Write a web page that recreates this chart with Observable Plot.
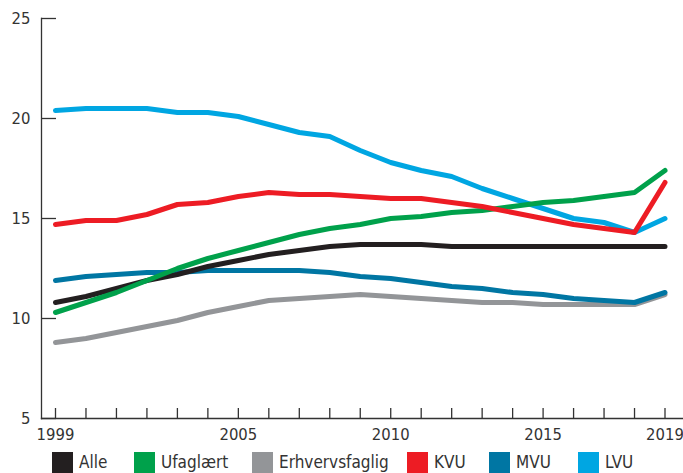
<!DOCTYPE html>
<html>
<head>
<meta charset="utf-8">
<script src="https://cdn.jsdelivr.net/npm/d3@7"></script>
<script src="https://cdn.jsdelivr.net/npm/@observablehq/plot@0.6"></script>
<style>
  html, body { margin: 0; padding: 0; background: #fff; }
  body { width: 683px; height: 473px; overflow: hidden; font-family: "DejaVu Sans Condensed", "DejaVu Sans", sans-serif; color: #333; }
  #legend { position: relative; height: 25px; margin-top: 4px; }
  .item { position: absolute; top: 0; display: flex; align-items: center; font-size: 17px; line-height: 21px; }
  .sw { width: 21px; height: 21px; margin-right: 6px; }
</style>
</head>
<body>
<div id="chart"></div>
<div id="legend"></div>
<script>
const years = [1999,2000,2001,2002,2003,2004,2005,2006,2007,2008,2009,2010,2011,2012,2013,2014,2015,2016,2017,2018,2019];
const alle      = [10.8,11.1,11.5,11.9,12.2,12.6,12.9,13.2,13.4,13.6,13.7,13.7,13.7,13.6,13.6,13.6,13.6,13.6,13.6,13.6,13.6];
const ufaglaert = [10.3,10.8,11.3,11.9,12.5,13.0,13.4,13.8,14.2,14.5,14.7,15.0,15.1,15.3,15.4,15.6,15.8,15.9,16.1,16.3,17.4];
const erhverv   = [8.8,9.0,9.3,9.6,9.9,10.3,10.6,10.9,11.0,11.1,11.2,11.1,11.0,10.9,10.8,10.8,10.7,10.7,10.7,10.7,11.2];
const kvu       = [14.7,14.9,14.9,15.2,15.7,15.8,16.1,16.3,16.2,16.2,16.1,16.0,16.0,15.8,15.6,15.3,15.0,14.7,14.5,14.3,16.8];
const mvu       = [11.9,12.1,12.2,12.3,12.3,12.4,12.4,12.4,12.4,12.3,12.1,12.0,11.8,11.6,11.5,11.3,11.2,11.0,10.9,10.8,11.3];
const lvu       = [20.4,20.5,20.5,20.5,20.3,20.3,20.1,19.7,19.3,19.1,18.4,17.8,17.4,17.1,16.5,16.0,15.5,15.0,14.8,14.3,15.0];

const seriesNames  = ["Alle","Ufaglært","Erhvervsfaglig","KVU","MVU","LVU"];
const seriesValues = [alle, ufaglaert, erhverv, kvu, mvu, lvu];
const seriesColors = ["#231f20","#00a14b","#939598","#ed1c24","#0076a3","#00a6e2"];
const drawOrder    = ["Erhvervsfaglig","MVU","LVU","Alle","Ufaglært","KVU"];

const yTicks = [5,10,15,20,25];
const xLabelTicks = [1999,2005,2010,2015,2019];

const rows = [];
for (const name of drawOrder) {
  const vals = seriesValues[seriesNames.indexOf(name)];
  years.forEach((yr, i) => rows.push({series: name, year: yr, value: vals[i]}));
}

const font = '"DejaVu Sans Condensed", "DejaVu Sans", sans-serif';

const chart = Plot.plot({
  width: 683,
  height: 448,
  marginLeft: 41,
  marginRight: 1,
  marginTop: 18,
  marginBottom: 30,
  insetLeft: 14,
  insetRight: 17.5,
  style: {fontFamily: font, fontSize: "16.5px", color: "#333", background: "#fff"},
  x: {domain: [1999, 2019], axis: null},
  y: {domain: [5, 25], axis: null},
  color: {domain: seriesNames, range: seriesColors},
  marks: [
    Plot.axisY(yTicks, {tickSize: -15, fill: "none", stroke: "#333", strokeWidth: 1.3, label: null}),
    Plot.axisY(yTicks, {tickSize: 0, tickPadding: 11, fill: "#333", fontSize: 16.5, label: null}),
    Plot.axisX(years, {tickSize: -10, fill: "none", stroke: "#333", strokeWidth: 1.3, label: null}),
    Plot.axisX(xLabelTicks, {tickSize: 0, tickPadding: 10, fill: "#333", fontSize: 16.5, tickFormat: d => String(d), label: null}),
    Plot.frame({anchor: "left", stroke: "#333", strokeWidth: 1.3}),
    Plot.frame({anchor: "bottom", stroke: "#333", strokeWidth: 1.3}),
    Plot.line(rows, {x: "year", y: "value", z: "series", stroke: "series", strokeWidth: 5, strokeLinecap: "round", strokeLinejoin: "round"})
  ]
});
document.getElementById("chart").appendChild(chart);

const legendX = [52, 134, 252, 407, 489, 578];
const legend = document.getElementById("legend");
seriesNames.forEach((name, i) => {
  const it = document.createElement("div");
  it.className = "item";
  it.style.left = legendX[i] + "px";
  const sw = document.createElement("div");
  sw.className = "sw";
  sw.style.background = seriesColors[i];
  const t = document.createElement("span");
  t.textContent = name;
  it.appendChild(sw); it.appendChild(t);
  legend.appendChild(it);
});
</script>
</body>
</html>
